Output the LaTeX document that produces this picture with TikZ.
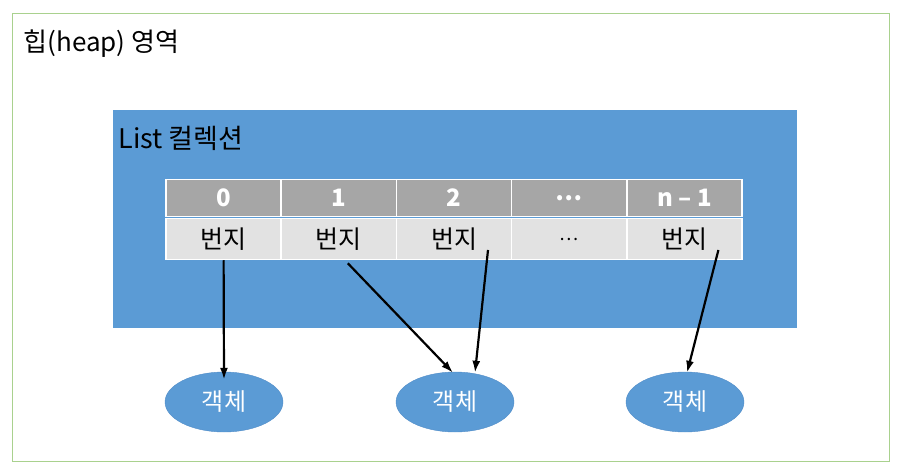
\documentclass[tikz,border=0pt]{standalone}
\usepackage{fontspec}
\usepackage{xcolor}
\setmainfont{Noto Sans CJK KR}
\usetikzlibrary{calc,shapes.geometric,arrows.meta}

\definecolor{heapgreen}{RGB}{169,209,142}
\definecolor{listblue}{RGB}{91,155,213}
\definecolor{objedge}{RGB}{80,140,200}
\definecolor{headgray}{RGB}{166,166,166}
\definecolor{bodygray}{RGB}{226,226,226}

\begin{document}
\begin{tikzpicture}[x=1pt,y=-1pt,
  headcell/.style={draw=white,line width=1.5pt,fill=headgray,minimum width=115.2pt,
    minimum height=37pt,inner sep=0pt,text=white,font=\bfseries\fontsize{24}{24}\selectfont},
  bodycell/.style={draw=white,line width=1.5pt,fill=bodygray,minimum width=115.2pt,
    minimum height=41pt,inner sep=0pt,font=\fontsize{25}{25}\selectfont},
  objnode/.style={ellipse,draw=objedge,fill=listblue,minimum width=118pt,
    minimum height=60pt,inner sep=0pt,text=white,font=\fontsize{24}{24}\selectfont},
  ptr/.style={-{Latex[length=12pt,width=8pt]},line width=2.2pt}]

\useasboundingbox (0,0) rectangle (902,470);

% Heap area
\draw[heapgreen,line width=1pt] (12,14) rectangle (889,461);
\node[anchor=west,font=\fontsize{26}{26}\selectfont] (heaplabel) at (20,44) {힙(heap) 영역};

% List collection
\fill[listblue] (113,110) rectangle (797,328);
\node[anchor=west,font=\fontsize{27}{27}\selectfont] (listlabel) at (115,138) {List 컬렉션};

% Index row and address row
\foreach \i/\idx/\val in {0/0/번지,1/1/번지,2/2/번지,3/…/{\fontsize{18}{18}\selectfont …},4/n – 1/번지}{
  \node[headcell] (head\i) at ({223.6+115.2*\i},198) {\idx};
  \node[bodycell] (cell\i) at ({223.6+115.2*\i},239) {\val};
}

% Objects
\node[objnode] (obj0) at (224,402) {객체};
\node[objnode] (obj1) at (455,402) {객체};
\node[objnode] (obj2) at (685,402) {객체};

% References
\coordinate (from0) at (cell0.south);
\coordinate (from1) at ($(cell1.south)+(9,3)$);
\coordinate (from2) at ($(cell2.center)+(34,11)$);
\coordinate (from4) at ($(cell4.center)+(34,11)$);
\draw[ptr] (from0) -- ($(obj0.north)+(0,8)$);
\draw[ptr] (from1) -- ($(obj1.north)+(-2,1)$);
\draw[ptr] (from2) -- ($(obj1.north)+(20,1)$);
\draw[ptr] (from4) -- ($(obj2.north)+(2,1)$);

\end{tikzpicture}
\end{document}
